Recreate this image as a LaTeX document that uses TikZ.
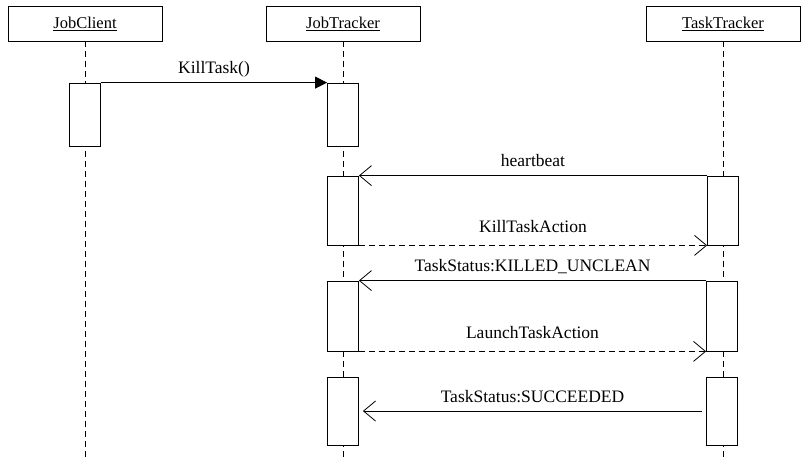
\documentclass[tikz,border=0pt]{standalone}
\usepackage{fontspec}
\setmainfont{Liberation Serif}
\usetikzlibrary{arrows.meta}

\begin{document}
\begin{tikzpicture}[x=1pt, y=-1pt, node distance=258pt, line width=0.8pt,
                    font=\fontsize{16.5}{18}\selectfont,
                    actor/.style={rectangle, draw, minimum width=154pt, minimum height=35pt},
                    act/.style={rectangle, draw, fill=white, minimum width=31pt},
                    life/.style={dash pattern=on 6pt off 4pt},
                    msg/.style={above=5pt, text depth=0pt, font=\fontsize{17.5}{19}\selectfont},
                    reply/.style={msg, above=4pt},
                    open/.style={-{Straight Barb[length=12pt, width=20pt]}}]
  \useasboundingbox (0,0) rectangle (809,461);
  \node[actor] (jc) at (85,23.5) {\underline{JobClient}};
  \node[actor, right of=jc] (jt) {\underline{JobTracker}};
  \node[actor, right of=jt, node distance=380pt] (tt) {\underline{TaskTracker}};
  \coordinate (bot) at (0,461);
  \foreach \n in {jc,jt,tt}
    \draw[life] (\n.south) -- (\n.south |- bot);
  % activations
  \node[act, minimum height=63pt] (jc1) at (85,114.5) {};
  \node[act, minimum height=63pt, right of=jc1] (jt1) {};
  \node[act, minimum height=69pt] (jt2) at (343,210.5) {};
  \node[act, minimum height=69pt, right of=jt2, node distance=380pt] (tt2) {};
  \node[act, minimum height=70pt] (jt3) at (343,316) {};
  \node[act, minimum height=70pt, right of=jt3, node distance=379pt] (tt3) {};
  \node[act, minimum height=68pt] (jt4) at (343,411) {};
  \node[act, minimum height=68pt, right of=jt4, node distance=379pt] (tt4) {};
  % messages
  \draw[-{Triangle[length=12pt, width=12pt]}] (jc1.north east) -- node[msg] {KillTask()} (jt1.north west);
  \draw[open] (tt2.north west) -- node[msg] {heartbeat} (jt2.north east);
  \draw[open, life] (jt2.south east) -- node[reply] {KillTaskAction} (tt2.south west);
  \draw[open] (tt3.north west) -- node[msg] {TaskStatus:KILLED\_UNCLEAN} (jt3.north east);
  \draw[open, life] (jt3.south east) -- node[reply] {LaunchTaskAction} (tt3.south west);
  \draw[open, shorten <=4pt, shorten >=4pt] (tt4.west) -- node[msg] {TaskStatus:SUCCEEDED} (jt4.east);
\end{tikzpicture}
\end{document}
